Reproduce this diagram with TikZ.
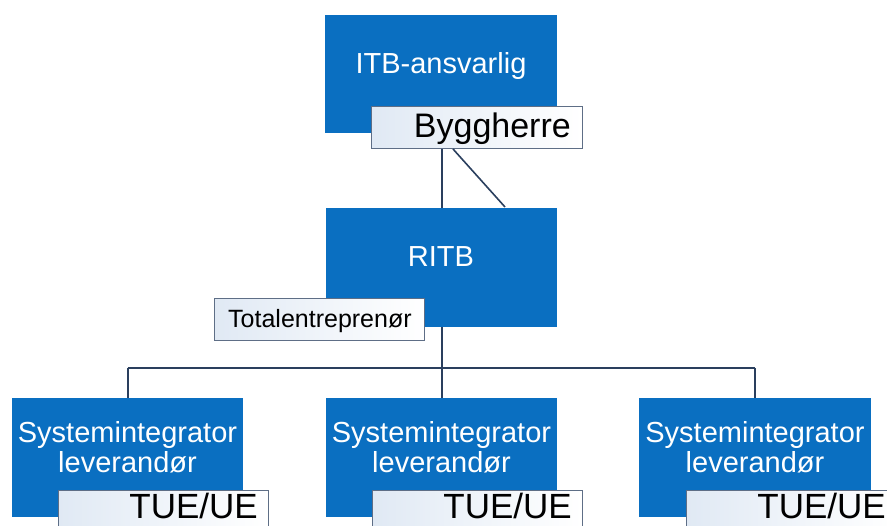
\documentclass[tikz,border=0pt]{standalone}
\usepackage{fontspec}
\setmainfont{Liberation Sans}
\definecolor{boxblue}{HTML}{0A6FC1}
\definecolor{linec}{HTML}{2A3F5E}
\definecolor{lblborder}{HTML}{5E6E86}
\definecolor{lblleft}{HTML}{E0E9F4}
\begin{document}
\begin{tikzpicture}[x=1pt,y=-1pt,
  bluebox/.style={rectangle, fill=boxblue, draw=none, inner sep=0pt},
  lbl/.style={rectangle, draw=lblborder, line width=1pt, left color=lblleft, right color=white, inner sep=0pt, minimum width=210pt, minimum height=42pt},
  wtext/.style={text=white, font=\fontsize{29}{30}\selectfont, inner sep=0pt, anchor=base},
  ktext/.style={text=black, inner sep=0pt},
  conn/.style={draw=linec, line width=2pt}]
\useasboundingbox (0,0) rectangle (887,526);
\clip (0,0) rectangle (887,526);
% boxes
\node[bluebox, minimum width=232pt, minimum height=118pt] (itb) at (441,74) {};
\node[bluebox, minimum width=231pt, minimum height=119pt] (ritb) at (441.5,267.5) {};
\node[bluebox, minimum width=231pt, minimum height=119pt] (s1) at (127.5,457.5) {};
\node[bluebox, minimum width=231pt, minimum height=119pt] (s2) at (441.5,457.5) {};
\node[bluebox, minimum width=232pt, minimum height=119pt] (s3) at (755,457.5) {};
% box texts
\node[wtext] (titb) at (441,74) {ITB-ansvarlig};
\node[wtext] (tritb) at (441,267) {RITB};
\foreach \n/\cx in {1/127.5,2/441.5,3/755}{
  \node[wtext] (sa\n) at (\cx,443) {Systemintegrator};
  \node[wtext] (sb\n) at (\cx,473) {leverandør};
}
% connectors
\coordinate (bus) at (441.5,368);
\draw[conn] (ritb.south) -- (s2.north);
\draw[conn] (s1.north |- bus) -- (s3.north |- bus);
\draw[conn] (s1.north |- bus) -- (s1.north);
\draw[conn] (s3.north |- bus) -- (s3.north);
% labels
\node[lbl, minimum width=211pt] (bygg) at (476.5,128) {};
\node[ktext, anchor=base east, font=\fontsize{34}{36}\selectfont] (tbygg) at (571,138) {Byggherre};
\coordinate (diagA) at (453,149);
\coordinate (diagB) at (505,207);
\draw[conn] (bygg.south -| ritb.north) -- (ritb.north);
\draw[conn, line width=1.6pt] (diagA) -- (diagB);
\node[lbl] (tot) at (319,320) {};
\node[ktext, anchor=base west, font=\fontsize{25}{27}\selectfont] (ttot) at (228,328) {Totalentreprenør};
\foreach \n/\cx in {1/163,2/477,3/791}{
  \node[lbl] (u\n) at (\cx,512) {};
  \node[ktext, anchor=base east, text depth=0pt, font=\fontsize{35}{37}\selectfont] (tu\n) at (\cx+95,519) {TUE/UE};
}
\end{tikzpicture}
\end{document}
